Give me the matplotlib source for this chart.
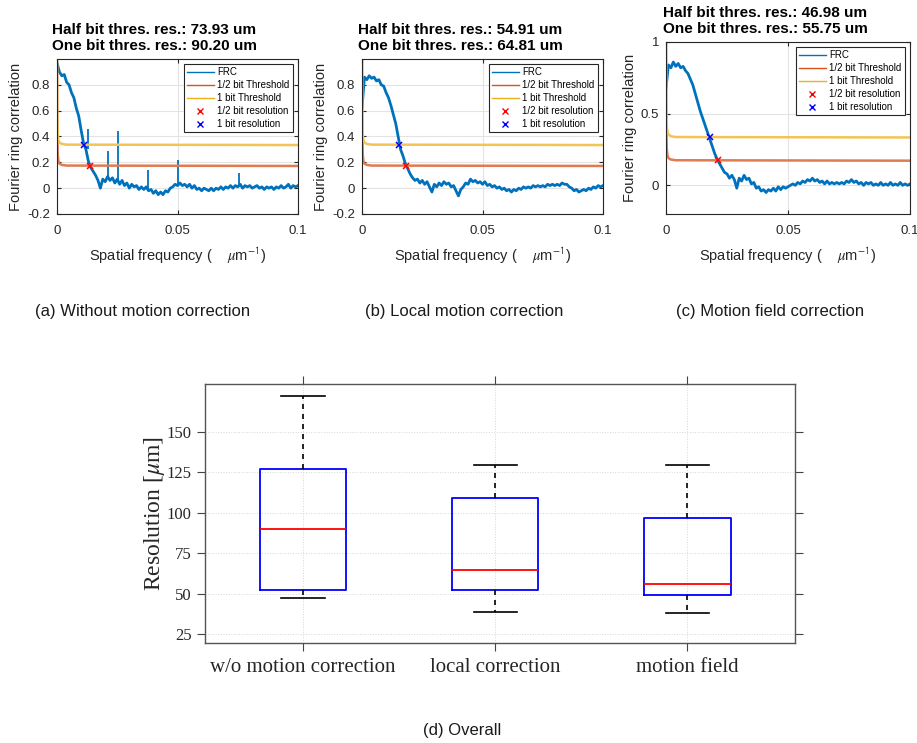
import numpy as np
import matplotlib
matplotlib.use("Agg")
import matplotlib.pyplot as plt
from matplotlib.lines import Line2D

# ----------- FRC DATA (x = 0 .. 0.1 step 0.001) -----------
frc_a = [0.97, 0.90, 0.87, 0.88, 0.82, 0.80, 0.74, 0.70, 0.62, 0.56,
         0.45, 0.35, 0.30, 0.21, 0.16, 0.13, 0.10, 0.06, 0.00, 0.07,
         0.05, 0.09, 0.06, 0.08, 0.04, 0.07, 0.03, 0.06, 0.02, 0.04,
         0.00, 0.03, 0.01, 0.02, -0.01, 0.01, -0.01, 0.01, -0.02, -0.01,
         -0.04, -0.02, -0.05, -0.03, -0.05, -0.02, -0.03, 0.00, 0.01, 0.03,
         0.02, 0.04, 0.02, 0.03, 0.01, 0.03, 0.00, 0.02, -0.01, 0.00,
         -0.02, 0.00, -0.01, -0.02, 0.00, -0.02, 0.00, -0.01, 0.01, -0.01,
         0.01, 0.00, 0.02, 0.00, 0.02, 0.01, 0.03, 0.00, 0.02, 0.01,
         0.02, 0.00, 0.01, 0.02, 0.00, 0.01, -0.01, 0.01, 0.00, 0.01,
         -0.01, 0.01, 0.00, 0.02, 0.00, 0.01, 0.03, 0.00, 0.02, 0.01, 0.02]

frc_b = [0.62, 0.86, 0.84, 0.87, 0.85, 0.86, 0.83, 0.84, 0.80, 0.79,
         0.74, 0.70, 0.64, 0.57, 0.50, 0.40, 0.30, 0.25, 0.19, 0.15,
         0.11, 0.08, 0.06, 0.07, 0.04, 0.06, 0.03, 0.05, 0.01, -0.03,
         0.03, 0.01, 0.04, 0.02, 0.05, 0.03, 0.04, 0.01, 0.02, -0.02,
         -0.06, -0.01, 0.01, 0.04, 0.03, 0.07, 0.05, 0.06, 0.04, 0.05,
         0.03, 0.05, 0.02, 0.03, 0.01, 0.02, 0.00, 0.01, -0.01, 0.00,
         -0.02, -0.01, -0.03, -0.01, -0.02, 0.00, -0.01, 0.01, 0.00, 0.01,
         0.00, 0.02, 0.01, 0.02, 0.01, 0.02, 0.01, 0.03, 0.02, 0.03,
         0.02, 0.03, 0.02, 0.04, 0.03, 0.03, 0.01, 0.00, -0.02, -0.01,
         -0.03, -0.02, -0.01, -0.02, 0.00, -0.01, 0.01, 0.00, 0.02, 0.01, 0.02]

frc_c = [0.68, 0.84, 0.82, 0.86, 0.83, 0.85, 0.82, 0.83, 0.80, 0.78,
         0.74, 0.70, 0.64, 0.58, 0.52, 0.47, 0.42, 0.37, 0.32, 0.27,
         0.22, 0.18, 0.15, 0.12, 0.09, 0.08, 0.05, 0.07, 0.04, -0.02,
         0.05, 0.03, 0.07, 0.04, 0.05, 0.01, 0.02, -0.02, -0.01, -0.04,
         -0.03, -0.05, -0.03, -0.04, -0.02, -0.04, -0.01, -0.03, -0.01, -0.02,
         -0.01, 0.00, 0.01, 0.00, 0.02, 0.01, 0.03, 0.02, 0.04, 0.03,
         0.05, 0.03, 0.04, 0.02, 0.03, 0.01, 0.03, 0.01, 0.02, 0.01,
         0.02, 0.01, 0.02, 0.01, 0.03, 0.02, 0.04, 0.02, 0.03, 0.01,
         0.02, 0.00, 0.02, 0.01, 0.02, 0.00, 0.01, 0.00, 0.02, 0.00,
         0.01, 0.00, 0.02, 0.00, 0.01, 0.00, 0.02, 0.00, 0.01, 0.00, 0.01]

# narrow spikes in panel (a)
spike_x = [0.0127, 0.0210, 0.0252, 0.0378, 0.0503, 0.0757]
spike_lo = [0.30, 0.07, 0.06, -0.01, 0.02, 0.01]
spike_hi = [0.46, 0.29, 0.44, 0.14, 0.22, 0.12]

# threshold curves
thr_x = [0, 0.0001, 0.0003, 0.0006, 0.001, 0.002, 0.004, 0.1]
half_bit_y = [1.0, 0.42, 0.26, 0.21, 0.19, 0.18, 0.175, 0.172]
one_bit_y = [1.0, 0.55, 0.42, 0.37, 0.355, 0.342, 0.337, 0.334]

# resolution crossings
half_res_x = [0.0135, 0.0182, 0.0213]
one_res_x = [0.0111, 0.0154, 0.0179]
half_res_y = 0.174
one_res_y = 0.336

half_res_um = ["73.93", "54.91", "46.98"]
one_res_um = ["90.20", "64.81", "55.75"]
captions = ["(a) Without motion correction", "(b) Local motion correction",
            "(c) Motion field correction"]

# ----------- BOX PLOT DATA -----------
box_labels = ["w/o motion correction", "local correction", "motion field"]
whis_lo = [47, 38.5, 38]
q1 = [52, 52.5, 49]
med = [90.2, 64.8, 55.75]
q3 = [127, 109, 97]
whis_hi = [172, 129.5, 129.5]

FRC_COLOR = "#0072BD"
HALF_COLOR = "#D95319"
ONE_COLOR = "#EDB120"

plt.rcParams["font.family"] = ["Liberation Sans", "DejaVu Sans"]
plt.rcParams["mathtext.fontset"] = "stix"

fig = plt.figure(figsize=(9.17, 7.43), dpi=100)
W, H = 917.0, 743.0


def px_axes(left, top, right, bottom):
    return fig.add_axes([left / W, 1 - bottom / H, (right - left) / W, (bottom - top) / H])


# axes boxes in pixels: left, top, right, bottom
boxes = [(57, 59, 298, 214), (362, 59, 603, 214), (666, 42, 910, 214)]
title_pos = [(154, 38), (460, 38), (765, 21)]
caption_x = [143, 464, 770]
curves = [frc_a, frc_b, frc_c]

for i in range(3):
    ax = px_axes(*boxes[i])
    x = np.linspace(0, 0.1, len(curves[i]))
    ax.plot(x, curves[i], color=FRC_COLOR, lw=2.0)
    if i == 0:
        ax.vlines(spike_x, spike_lo, spike_hi, color=FRC_COLOR, lw=1.3)
    ax.plot(thr_x, half_bit_y, color="#E07A50", lw=1.8)
    ax.plot(thr_x, one_bit_y, color="#F2C455", lw=1.8)
    ax.plot(half_res_x[i], half_res_y, "x", color="red", ms=5, mew=1.1)
    ax.plot(one_res_x[i], one_res_y, "x", color="blue", ms=5, mew=1.1)

    ax.set_xlim(0, 0.1)
    ax.set_ylim(-0.2, 1.0)
    ax.set_xticks([0, 0.05, 0.1])
    ax.set_xticklabels(["0", "0.05", "0.1"])
    if i == 2:
        ax.set_yticks([0, 0.5, 1])
        ax.set_yticklabels(["0", "0.5", "1"])
    else:
        ax.set_yticks([-0.2, 0, 0.2, 0.4, 0.6, 0.8])
        ax.set_yticklabels(["-0.2", "0", "0.2", "0.4", "0.6", "0.8"])
    ax.tick_params(direction="in", top=True, right=True, length=3, labelsize=9.5,
                   colors="#262626", pad=5)
    ax.tick_params(axis="x", pad=8)
    ax.grid(True, color="#e3e3e3", lw=0.8)
    ax.set_axisbelow(True)
    for s in ax.spines.values():
        s.set_color("#262626")
        s.set_linewidth(0.8)
    ax.set_ylabel("Fourier ring correlation", fontsize=10.5, color="#262626", labelpad=3)
    ax.set_xlabel(r"Spatial frequency (    $\mu$m$^{\mathsf{-1}}$)", fontsize=10.5,
                  color="#262626", labelpad=6)

    handles = [
        Line2D([], [], color=FRC_COLOR, lw=1),
        Line2D([], [], color=HALF_COLOR, lw=1),
        Line2D([], [], color=ONE_COLOR, lw=1),
        Line2D([], [], color="red", marker="x", ls="none", ms=4),
        Line2D([], [], color="blue", marker="x", ls="none", ms=4),
    ]
    names = ["FRC", "1/2 bit Threshold", "1 bit Threshold",
             "1/2 bit resolution", "1 bit resolution"]
    leg = ax.legend(handles, names, loc="upper right", fontsize=7, fancybox=False,
                    edgecolor="#262626", framealpha=1, handlelength=2.7,
                    borderaxespad=0.5, labelspacing=0.3, handletextpad=0.4,
                    borderpad=0.35)
    leg.get_frame().set_linewidth(0.8)

    tx, ty = title_pos[i]
    fig.text(tx / W, 1 - ty / H,
             "Half bit thres. res.: %s um\nOne bit thres. res.: %s um" % (half_res_um[i], one_res_um[i]),
             ha="center", va="center", multialignment="center",
             fontsize=11, fontweight="bold", linespacing=1.15)
    fig.text(caption_x[i] / W, 1 - 312 / H, captions[i], ha="center", va="center",
             fontsize=12, color="#1a1a1a")

# ----------- OVERALL BOX PLOT -----------
axd = px_axes(205, 384, 795, 643)
stats = []
for k in range(len(box_labels)):
    stats.append({"whislo": whis_lo[k], "q1": q1[k], "med": med[k],
                  "q3": q3[k], "whishi": whis_hi[k], "fliers": [], "label": box_labels[k]})
axd.bxp(stats, positions=[1, 2, 3], widths=0.45, showfliers=False,
        boxprops=dict(color="blue", lw=1.3),
        medianprops=dict(color="red", lw=1.3),
        whiskerprops=dict(color="black", lw=1.2, ls=(0, (3, 3))),
        capprops=dict(color="black", lw=1.2))
axd.set_xlim(0.49, 3.56)
axd.set_ylim(19.5, 179.5)
axd.set_yticks([25, 50, 75, 100, 125, 150])
axd.grid(True, color="#d6d6d6", lw=0.7, ls=":")
axd.set_axisbelow(True)
axd.tick_params(direction="out", top=True, right=True, length=6, color="#444444",
                labelcolor="#262626")
axd.tick_params(axis="y", labelsize=12)
axd.tick_params(axis="x", labelsize=15, pad=5)
for lab in axd.get_xticklabels() + axd.get_yticklabels():
    lab.set_family("Liberation Serif")
for s in axd.spines.values():
    s.set_color("#555555")
    s.set_linewidth(1.0)
axd.set_ylabel(r"Resolution [$\mu$m]", fontsize=17, family="Liberation Serif",
               color="#262626", labelpad=0)

fig.text(462 / W, 1 - 730 / H, "(d) Overall", ha="center", va="center",
         fontsize=12, color="#1a1a1a")

fig.savefig("out.png", dpi=100)
